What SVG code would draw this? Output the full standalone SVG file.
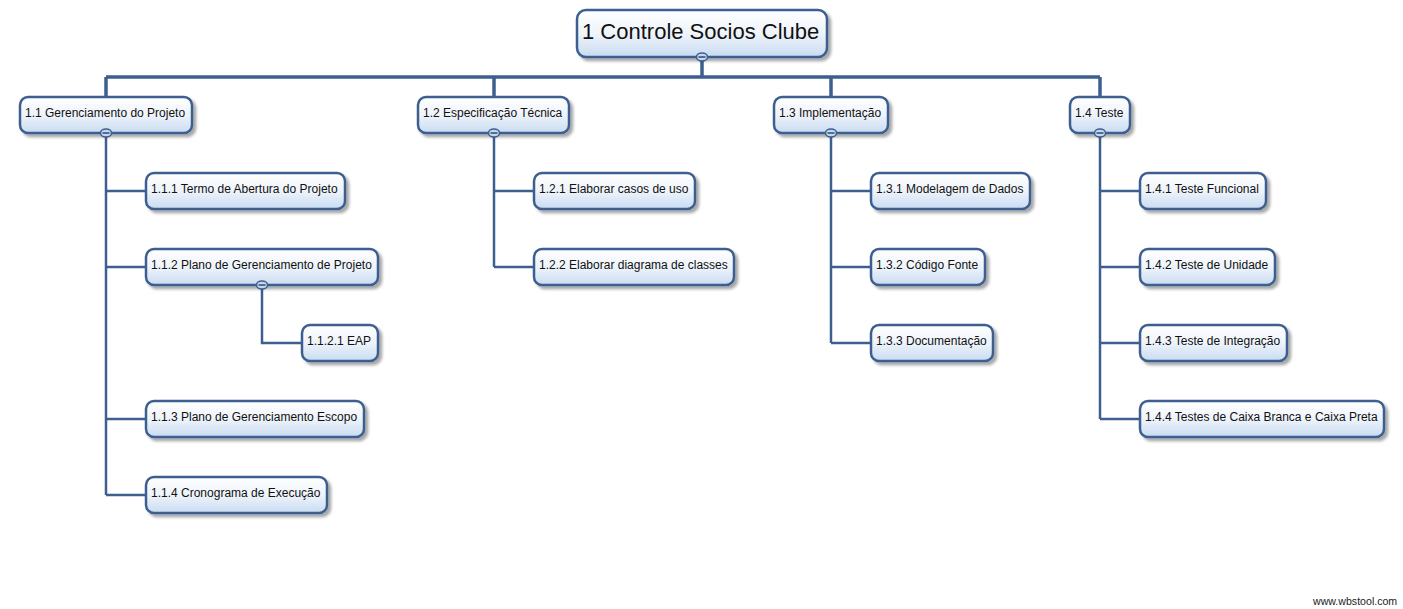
<svg xmlns="http://www.w3.org/2000/svg" width="1403" height="609" viewBox="0 0 1403 609">
<defs>
<linearGradient id="g" x1="0" y1="0" x2="0" y2="1">
<stop offset="0" stop-color="#ffffff"/>
<stop offset="0.5" stop-color="#eef4fb"/>
<stop offset="1" stop-color="#c9dbf1"/>
</linearGradient>
<filter id="sh" x="-10%" y="-20%" width="130%" height="160%">
<feGaussianBlur in="SourceAlpha" stdDeviation="1.5"/>
<feOffset dx="3" dy="3" result="b"/>
<feComponentTransfer><feFuncA type="linear" slope="0.35"/></feComponentTransfer>
<feMerge><feMergeNode/><feMergeNode in="SourceGraphic"/></feMerge>
</filter>
</defs>
<style>
.box{fill:url(#g);stroke:#3d5f8f;stroke-width:2.5;filter:url(#sh)}
.t{font-family:"Liberation Sans",Arial,sans-serif;font-size:12px;fill:#111}
.tr{font-family:"Liberation Sans",Arial,sans-serif;font-size:22px;fill:#111}
.c{fill:none;stroke:#3d5f8f;stroke-width:2.5}
.bus{fill:none;stroke:#3d5f8f;stroke-width:3.5}
.btn{fill:#c5d6ee;stroke:#3d5f8f;stroke-width:1.5}
.mn{stroke:#2c4a75;stroke-width:1.5}
</style>
<rect width="1403" height="609" fill="#ffffff"/>
<g id="connectors">
<path class="bus" d="M702,57 V77 M106,77 H1100 M106,77 V97 M494,77 V97 M831,77 V97 M1100,77 V97"/>
<path class="c" d="M106,133 V495 M106,191 H146 M106,267 H146 M106,419 H146 M106,495 H146"/>
<path class="c" d="M262,285 V343 H302"/>
<path class="c" d="M494,133 V267 M494,191 H534 M494,267 H534"/>
<path class="c" d="M831,133 V343 M831,191 H871 M831,267 H871 M831,343 H871"/>
<path class="c" d="M1100,133 V419 M1100,191 H1140 M1100,267 H1140 M1100,343 H1140 M1100,419 H1140"/>
</g>
<g id="n1"><rect class="box" x="577" y="10" width="250" height="47" rx="9"/><text class="tr" x="582" y="39">1 Controle Socios Clube</text><ellipse class="btn" cx="702" cy="57" rx="5.5" ry="4"/><line class="mn" x1="698.5" y1="57" x2="705.5" y2="57"/></g>
<g id="n1_1"><rect class="box" x="20" y="97" width="172" height="36" rx="8"/><text class="t" x="25" y="117">1.1 Gerenciamento do Projeto</text><ellipse class="btn" cx="106" cy="133" rx="5.5" ry="4"/><line class="mn" x1="102.5" y1="133" x2="109.5" y2="133"/></g>
<g id="n1_2"><rect class="box" x="418" y="97" width="151" height="36" rx="8"/><text class="t" x="423" y="117">1.2 Especificação Técnica</text><ellipse class="btn" cx="494" cy="133" rx="5.5" ry="4"/><line class="mn" x1="490.5" y1="133" x2="497.5" y2="133"/></g>
<g id="n1_3"><rect class="box" x="774" y="97" width="114" height="36" rx="8"/><text class="t" x="779" y="117">1.3 Implementação</text><ellipse class="btn" cx="831" cy="133" rx="5.5" ry="4"/><line class="mn" x1="827.5" y1="133" x2="834.5" y2="133"/></g>
<g id="n1_4"><rect class="box" x="1070" y="97" width="60" height="36" rx="8"/><text class="t" x="1075" y="117">1.4 Teste</text><ellipse class="btn" cx="1100" cy="133" rx="5.5" ry="4"/><line class="mn" x1="1096.5" y1="133" x2="1103.5" y2="133"/></g>
<g id="n1_1_1"><rect class="box" x="146" y="173" width="199" height="36" rx="8"/><text class="t" x="151" y="193">1.1.1 Termo de Abertura do Projeto</text></g>
<g id="n1_1_2"><rect class="box" x="146" y="249" width="232" height="36" rx="8"/><text class="t" x="151" y="269">1.1.2 Plano de Gerenciamento de Projeto</text><ellipse class="btn" cx="262" cy="285" rx="5.5" ry="4"/><line class="mn" x1="258.5" y1="285" x2="265.5" y2="285"/></g>
<g id="n1_1_2_1"><rect class="box" x="302" y="325" width="76" height="36" rx="8"/><text class="t" x="307" y="345">1.1.2.1 EAP</text></g>
<g id="n1_1_3"><rect class="box" x="146" y="401" width="218" height="36" rx="8"/><text class="t" x="151" y="421">1.1.3 Plano de Gerenciamento Escopo</text></g>
<g id="n1_1_4"><rect class="box" x="146" y="477" width="181" height="36" rx="8"/><text class="t" x="151" y="497">1.1.4 Cronograma de Execução</text></g>
<g id="n1_2_1"><rect class="box" x="534" y="173" width="161" height="36" rx="8"/><text class="t" x="539" y="193">1.2.1 Elaborar casos de uso</text></g>
<g id="n1_2_2"><rect class="box" x="534" y="249" width="200" height="36" rx="8"/><text class="t" x="539" y="269">1.2.2 Elaborar diagrama de classes</text></g>
<g id="n1_3_1"><rect class="box" x="871" y="173" width="159" height="36" rx="8"/><text class="t" x="876" y="193">1.3.1 Modelagem de Dados</text></g>
<g id="n1_3_2"><rect class="box" x="871" y="249" width="114" height="36" rx="8"/><text class="t" x="876" y="269">1.3.2 Código Fonte</text></g>
<g id="n1_3_3"><rect class="box" x="871" y="325" width="122" height="36" rx="8"/><text class="t" x="876" y="345">1.3.3 Documentação</text></g>
<g id="n1_4_1"><rect class="box" x="1140" y="173" width="126" height="36" rx="8"/><text class="t" x="1145" y="193">1.4.1 Teste Funcional</text></g>
<g id="n1_4_2"><rect class="box" x="1140" y="249" width="135" height="36" rx="8"/><text class="t" x="1145" y="269">1.4.2 Teste de Unidade</text></g>
<g id="n1_4_3"><rect class="box" x="1140" y="325" width="147" height="36" rx="8"/><text class="t" x="1145" y="345">1.4.3 Teste de Integração</text></g>
<g id="n1_4_4"><rect class="box" x="1140" y="401" width="244" height="36" rx="8"/><text class="t" x="1145" y="421">1.4.4 Testes de Caixa Branca e Caixa Preta</text></g>
<text x="1313" y="605" style="font-family:'Liberation Sans',Arial,sans-serif;font-size:10.6px;fill:#222">www.wbstool.com</text>
</svg>
